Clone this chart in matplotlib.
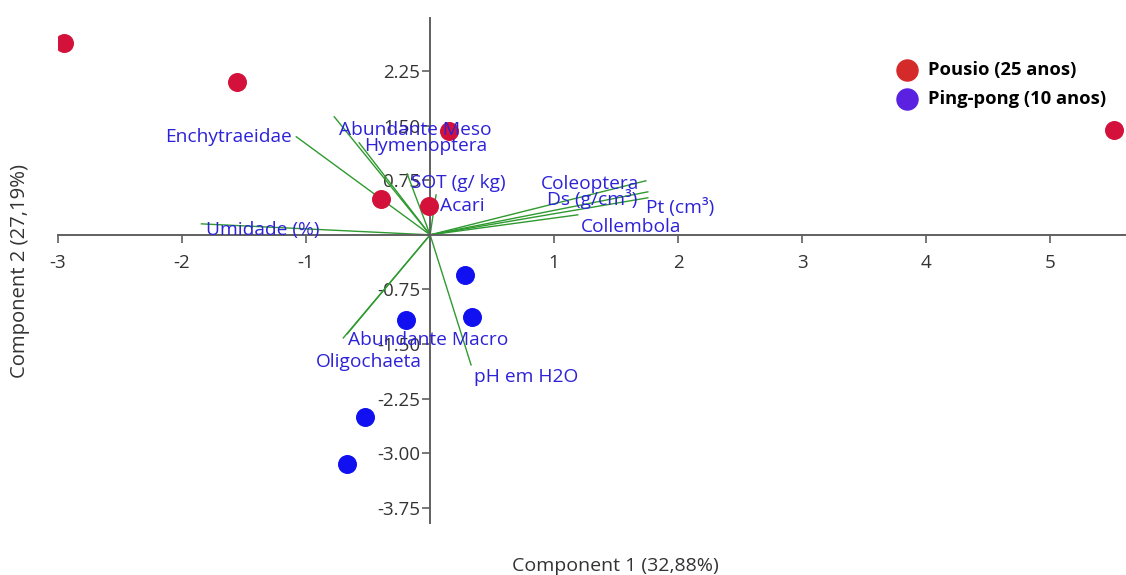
import numpy as np
import matplotlib.pyplot as plt

plt.rcParams['font.family'] = ['Open Sans', 'DejaVu Sans']

# scores (component 1, component 2)
pousio_x = [-2.955, -1.554, 0.153, -0.395, -0.008, 5.515]
pousio_y = [2.64, 2.10, 1.43, 0.495, 0.40, 1.444]
ping_x = [0.282, 0.338, -0.193, -0.523, -0.668]
ping_y = [-0.55, -1.128, -1.169, -2.503, -3.15]

# loadings (vector ends)
var_names = ["Enchytraeidae", "Abundante Meso", "Hymenoptera", "SOT (g/ kg)", "Acari",
             "Umidade (%)", "Coleoptera", "Ds (g/cm³)", "Pt (cm³)", "Collembola",
             "Abundante Macro", "Oligochaeta", "pH em H2O"]
load_x = [-1.079, -0.773, -0.572, -0.185, 0.048, -1.844, 1.739, 1.755, 1.755, 1.19,
          -0.668, -0.70, 0.33]
load_y = [1.348, 1.623, 1.265, 0.839, 0.55, 0.151, 0.743, 0.591, 0.509, 0.275,
          -1.36, -1.417, -1.788]
# label anchor points
lab_x = [-1.111, -0.733, -0.531, -0.153, 0.08, -1.803, 0.894, 0.942, 1.739, 1.216,
         -0.66, -0.918, 0.354]
lab_y = [1.348, 1.444, 1.224, 0.715, 0.40, 0.069, 0.70, 0.495, 0.371, 0.11,
         -1.444, -1.747, -1.953]
lab_ha = ["right"] + ["left"] * 12

xticks = [-3, -2, -1, 1, 2, 3, 4, 5]
yticks = [2.25, 1.50, 0.75, -0.75, -1.50, -2.25, -3.00, -3.75]

fig = plt.figure(figsize=(11.26, 5.75), dpi=100)
ax = fig.add_axes([58/1126, 1-523/575, 1-58/1126, (523-18)/575])
ax.set_xlim(-3.0, 5.61)
ax.set_ylim(-3.96, 2.98)

for s in ["top", "right"]:
    ax.spines[s].set_visible(False)
ax.spines["left"].set_position(("data", 0))
ax.spines["bottom"].set_position(("data", 0))
for s in ["left", "bottom"]:
    ax.spines[s].set_color("#606060")
    ax.spines[s].set_linewidth(1.4)

ax.set_xticks(xticks)
ax.set_xticklabels([str(t) for t in xticks])
ax.set_yticks(yticks)
ax.set_yticklabels([f"{t:.2f}" for t in yticks])
ax.tick_params(axis="both", direction="out", length=6, width=1.2, color="#606060",
               labelsize=13.5, labelcolor="#333333")
ax.tick_params(axis="x", pad=8)
ax.tick_params(axis="y", pad=1)

for x, y in zip(load_x, load_y):
    ax.plot([0, x], [0, y], color="#2f9a2f", lw=1.0, zorder=2)

ax.scatter(pousio_x, pousio_y, s=160, color="#d3113a", zorder=3)
ax.scatter(ping_x, ping_y, s=160, color="#1010f0", zorder=3)

for name, x, y, ha in zip(var_names, lab_x, lab_y, lab_ha):
    ax.text(x, y, name, color="#2d22d8", fontsize=13.8, ha=ha, va="center", zorder=4)

# legend
ax.scatter([], [], s=230, color="#d42a2a", label="Pousio (25 anos)")
ax.scatter([], [], s=230, color="#5a22e0", label="Ping-pong (10 anos)")
leg_handles, leg_labels = ax.get_legend_handles_labels()
leg = ax.legend(leg_handles[-2:], leg_labels[-2:], loc="upper left",
                bbox_to_anchor=(0.762, 0.948), frameon=False, handletextpad=0.15,
                labelspacing=0.6, prop={"weight": "bold", "size": 13.2})

fig.text(615/1126, 1-566/575, "Component 1 (32,88%)", ha="center", va="center",
         fontsize=14, color="#333333")
fig.text(20/1126, 1-271/575, "Component 2 (27,19%)", ha="center", va="center",
         rotation=90, fontsize=14.6, color="#333333")

fig.savefig("out.png", dpi=100)
